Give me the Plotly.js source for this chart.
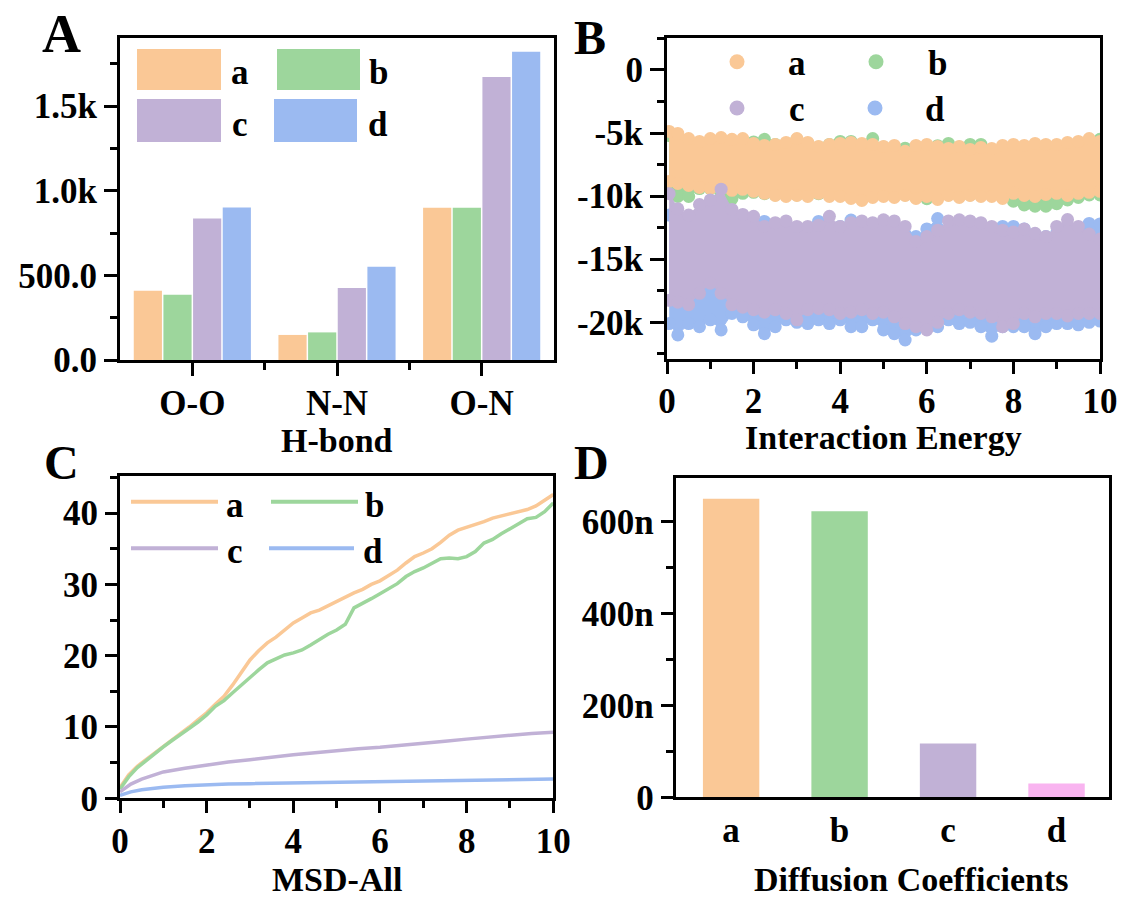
<!DOCTYPE html>
<html><head><meta charset="utf-8">
<script src="https://cdn.plot.ly/plotly-3.0.1.min.js"></script>
<style>body{margin:0;background:#fff}</style>
</head><body>
<div id="chart" style="width:1123px;height:901px"></div>
<script>
// ---------- DATA ----------
const seriesNames = ['a','b','c','d'];

// Panel A: H-bond counts
const hbondCategories = ['O-O','N-N','O-N'];
const hbondA = [409, 148, 899];
const hbondB = [385, 163, 899];
const hbondC = [836, 425, 1672];
const hbondD = [901, 551, 1820];

// Panel B: interaction energy band envelopes (upper / lower edges of the point cloud)
const ieX = [0.05,0.25,0.5,0.75,1,1.25,1.5,1.75,2,2.25,2.5,2.75,3,3.25,3.5,3.75,4,4.25,4.5,4.75,5,5.25,5.5,5.75,6,6.25,6.5,6.75,7,7.25,7.5,7.75,8,8.25,8.5,8.75,9,9.25,9.5,9.75,10];
const ieATop = [-4870,-5030,-5430,-5660,-5430,-5350,-5500,-5430,-5820,-5980,-5900,-5740,-5430,-5740,-6060,-5900,-5820,-5740,-5820,-5900,-6060,-5980,-6450,-5980,-5900,-6060,-6220,-6060,-6300,-6140,-6220,-5980,-5900,-5980,-5820,-5900,-5900,-5740,-5660,-5430,-5660];
const ieABot = [-8830,-8990,-9150,-9310,-9390,-9230,-9540,-9460,-9620,-9780,-9940,-10020,-9940,-10020,-9780,-10020,-10020,-10180,-10340,-10100,-10020,-10100,-9940,-10180,-10020,-10260,-9940,-10100,-9940,-10020,-10020,-10180,-9780,-9940,-10020,-9860,-9780,-9940,-9780,-9700,-9620];
const ieBTop = [-5200,-5300,-5600,-5800,-5700,-5600,-5700,-5600,-5700,-5500,-5900,-5900,-5500,-5800,-6100,-5900,-5660,-5660,-5900,-5430,-6100,-6100,-6200,-6100,-6000,-6000,-5820,-6100,-5900,-5900,-6300,-6100,-6000,-6100,-6000,-6000,-6000,-5900,-5800,-5600,-5500];
const ieBBot = [-9000,-10020,-10020,-9400,-9400,-9900,-10200,-9780,-9700,-9800,-9900,-9900,-9900,-9900,-9800,-9900,-9900,-10000,-10100,-10000,-9900,-10000,-9900,-10100,-10200,-10100,-9900,-10000,-9900,-9900,-9900,-10100,-10400,-10700,-10800,-10800,-10600,-10300,-10100,-9900,-9900];
const ieCTop = [-9800,-11000,-11500,-10660,-10300,-9450,-11050,-11450,-11600,-12400,-12100,-11960,-12400,-12400,-12300,-11600,-12400,-12100,-11960,-12100,-11870,-11960,-12400,-13600,-13200,-12700,-11960,-11870,-11960,-12100,-12400,-12700,-12850,-12600,-12950,-13200,-12400,-11850,-12400,-13000,-13400];
const ieCBot = [-18260,-18400,-18600,-17700,-16900,-17700,-18600,-18800,-19000,-19200,-19000,-19300,-19800,-19000,-18900,-19000,-19300,-19200,-19000,-19300,-19200,-19560,-20100,-20350,-20600,-20000,-19300,-19000,-19200,-19300,-19560,-20350,-20100,-19300,-19560,-19300,-19300,-19500,-19300,-19300,-19300];
const ieDTop = [-11500,-12000,-12200,-12000,-11800,-12000,-12200,-12300,-12400,-12000,-12600,-12600,-12800,-12800,-12000,-12500,-12400,-11900,-12600,-12700,-12600,-12800,-13000,-13200,-12600,-11770,-12800,-12800,-12800,-12900,-13000,-12400,-12400,-12600,-13000,-13200,-12900,-12500,-12800,-12160,-12200];
const ieDBot = [-20100,-21000,-20100,-20350,-19800,-20600,-19300,-19560,-20200,-20900,-20350,-19800,-20000,-20100,-19800,-20100,-19800,-20350,-20350,-19800,-20600,-20900,-21400,-20600,-20350,-20350,-19800,-20100,-20000,-20350,-21100,-20350,-20350,-20350,-20900,-20350,-20100,-20100,-20200,-20000,-19900];

// Panel C: MSD-All
const msdX1 = [0,0.2,0.4,0.6,0.8,1,1.2,1.4,1.6,1.8,2,2.2,2.4,2.6,2.8,3,3.2,3.4,3.6,3.8,4,4.2,4.4,4.6,4.8,5,5.2,5.4,5.6,5.8,6,6.2,6.4,6.6,6.8,7,7.2,7.4,7.6,7.8,8,8.2,8.4,8.6,8.8,9,9.2,9.4,9.6,9.8,10];
const msdA = [1.5,3.3,4.5,5.4,6.3,7.3,8.2,9.1,10.0,11.0,12.0,13.2,14.3,15.9,17.6,19.4,20.7,21.8,22.6,23.6,24.6,25.3,26.0,26.4,27.0,27.7,28.3,28.8,29.3,30.0,30.5,31.2,32.0,33.0,33.9,34.4,35.0,35.9,36.9,37.6,38.0,38.3,38.8,39.3,39.6,39.8,40.1,40.5,41.0,41.8,42.6];
const msdB = [1.3,3.0,4.3,5.3,6.2,7.2,8.1,8.9,9.8,10.7,11.7,12.9,13.7,14.8,15.9,16.9,18.0,19.0,19.6,20.1,20.4,20.8,21.5,22.3,23.0,23.6,24.4,26.7,27.3,28.0,28.7,29.4,30.1,31.1,31.8,32.3,32.9,33.6,33.7,33.6,33.9,34.6,35.8,36.3,37.1,37.8,38.6,39.2,39.4,40.2,41.4];
const msdX2 = [0,0.25,0.5,0.75,1,1.5,2,2.5,3,3.5,4,4.5,5,5.5,6,6.5,7,7.5,8,8.5,9,9.5,10];
const msdC = [0.9,2.0,2.7,3.2,3.7,4.2,4.7,5.1,5.4,5.8,6.1,6.4,6.7,6.95,7.15,7.4,7.7,8.0,8.3,8.6,8.9,9.1,9.25];
const msdD = [0.4,0.9,1.2,1.4,1.55,1.75,1.9,2.0,2.05,2.1,2.15,2.2,2.25,2.3,2.35,2.4,2.45,2.5,2.55,2.6,2.62,2.66,2.7];

// Panel D: diffusion coefficients
const diffCategories = ['a','b','c','d'];
const diffValues = [649e-9, 622e-9, 117e-9, 30e-9];

// ticks
const hbondTickVals = [0,500,1000,1500];
const hbondTickText = ['0.0','500.0','1.0k','1.5k'];
const ieTickVals = [0,-5000,-10000,-15000,-20000];
const ieTickText = ['0','-5k','-10k','-15k','-20k'];
const diffTickVals = [0,200e-9,400e-9,600e-9];
const diffTickText = ['0','200n','400n','600n'];

// ---------- STYLE ----------
const COL = {a:'#FAC896', b:'#9DD69C', c:'#C1B1D6', d:'#9BBAF1', pink:'#F9B4F0'};
const FONT = 'Liberation Serif, Times New Roman, serif';
const W = 1123, H = 901;
const fx = p => p / W;
const fy = p => 1 - p / H;
const tf = {family: FONT, size: 35, color: '#000', weight: 'bold'};

// ---------- TRACES ----------
const traces = [];
const hb = {a: hbondA, b: hbondB, c: hbondC, d: hbondD};
const catIdx = hbondCategories.map((c, i) => i);
seriesNames.forEach(s => {
  traces.push({type:'bar', x: catIdx, y: hb[s], name: s, marker:{color: COL[s]}, xaxis:'x', yaxis:'y', hoverinfo:'y'});
});

function band(top, bot, col, name) {
  traces.push({type:'scatter', mode:'lines+markers', x: ieX, y: bot, name: name, line:{color: col, width: 1}, marker:{color: col, size: 13}, xaxis:'x2', yaxis:'y2', hoverinfo:'skip'});
  traces.push({type:'scatter', mode:'lines+markers', x: ieX, y: top, name: name, line:{color: col, width: 1}, marker:{color: col, size: 13}, fill:'tonexty', fillcolor: col, xaxis:'x2', yaxis:'y2', hoverinfo:'skip'});
}
band(ieBTop, ieBBot, COL.b, 'b');
band(ieATop, ieABot, COL.a, 'a');
band(ieDTop, ieDBot, COL.d, 'd');
band(ieCTop, ieCBot, COL.c, 'c');

traces.push({type:'scatter', mode:'lines', x: msdX1, y: msdA, name:'a', line:{color: COL.a, width: 3.5}, xaxis:'x3', yaxis:'y3'});
traces.push({type:'scatter', mode:'lines', x: msdX1, y: msdB, name:'b', line:{color: COL.b, width: 3.5}, xaxis:'x3', yaxis:'y3'});
traces.push({type:'scatter', mode:'lines', x: msdX2, y: msdC, name:'c', line:{color: COL.c, width: 3.5}, xaxis:'x3', yaxis:'y3'});
traces.push({type:'scatter', mode:'lines', x: msdX2, y: msdD, name:'d', line:{color: COL.d, width: 3.5}, xaxis:'x3', yaxis:'y3'});

traces.push({type:'bar', x: diffCategories, y: diffValues, width: 0.52, marker:{color:[COL.a, COL.b, COL.c, COL.pink]}, xaxis:'x4', yaxis:'y4'});

// ---------- AXES ----------
function ax(extra) {
  return Object.assign({
    showline: true, linewidth: 3, linecolor: '#000', mirror: true,
    showgrid: false, zeroline: false, ticks: 'outside', ticklen: 12, tickwidth: 3, tickcolor: '#000',
    tickfont: tf, fixedrange: true
  }, extra);
}
const minorX = {ticks:'outside', ticklen: 7, tickwidth: 3, tickcolor:'#000', showgrid: false};

const layout = {
  width: W, height: H, margin: {l:0, r:0, t:0, b:0},
  paper_bgcolor: '#fff', plot_bgcolor: '#fff', showlegend: false,
  font: tf,
  barmode: 'group', bargap: 0.18, bargroupgap: 0.05,
  xaxis: ax({domain:[fx(120), fx(554)], anchor:'y', range:[-0.5, 2.5], tickmode:'array', tickvals: catIdx, ticktext: hbondCategories, ticklen: 13, ticklabelstandoff: -3,
    minor: Object.assign({tickmode:'array', tickvals: catIdx.slice(1).map(i => i - 0.5)}, minorX)}),
  yaxis: ax({domain:[fy(360), fy(38.3)], anchor:'x', range:[0, 1900], tickmode:'array', tickvals: hbondTickVals, ticktext: hbondTickText, ticklen: 13,
    minor: Object.assign({tickmode:'linear', tick0: 0, dtick: 250}, minorX)}),
  xaxis2: ax({domain:[fx(667), fx(1100)], anchor:'y2', range:[0, 10], tickmode:'linear', tick0: 0, dtick: 2, ticklabelstandoff: -3,
    minor: Object.assign({tickmode:'linear', tick0: 0, dtick: 1}, minorX)}),
  yaxis2: ax({domain:[fy(359.3), fy(38.3)], anchor:'x2', range:[-22930, 2510], tickmode:'array', tickvals: ieTickVals, ticktext: ieTickText, ticklen: 14,
    minor: Object.assign({tickmode:'linear', tick0: 0, dtick: 2500}, minorX)}),
  xaxis3: ax({domain:[fx(120), fx(553.3)], anchor:'y3', range:[0, 10], tickmode:'linear', tick0: 0, dtick: 2, ticklabelstandoff: -2,
    minor: Object.assign({tickmode:'linear', tick0: 0, dtick: 1}, minorX)}),
  yaxis3: ax({domain:[fy(798.3), fy(476)], anchor:'x3', range:[0, 45.2], tickmode:'linear', tick0: 0, dtick: 10,
    minor: Object.assign({tickmode:'linear', tick0: 0, dtick: 5}, minorX)}),
  xaxis4: ax({domain:[fx(675.8), fx(1108.6)], anchor:'y4', range:[-0.51, 3.48], ticks: ''}),
  yaxis4: ax({domain:[fy(797.3), fy(477.7)], anchor:'x4', range:[0, 695e-9], tickmode:'array', tickvals: diffTickVals, ticktext: diffTickText,
    minor: Object.assign({tickmode:'linear', tick0: 0, dtick: 100e-9}, minorX)}),
  shapes: [], annotations: []
};

// ---------- LEGENDS (drawn) ----------
function txt(t, x, y, size, xanchor) {
  layout.annotations.push({text: t, x: fx(x), y: fy(y), xref:'paper', yref:'paper', showarrow: false,
    xanchor: xanchor || 'center', yanchor: 'middle', font: {family: FONT, size: size || 35, color:'#000', weight:'bold'}});
}
// A legend: rectangles
const legA = [['a',137,49,221,90,240,72],['b',277,49,360,90,378,72],['c',137,99,221,142,240,124],['d',274,99,357,142,378,124]];
legA.forEach(r => {
  layout.shapes.push({type:'rect', xref:'paper', yref:'paper', x0: fx(r[1]), x1: fx(r[3]), y0: fy(r[4]), y1: fy(r[2]), fillcolor: COL[r[0]], line:{width:0}});
  txt(r[0], r[5], r[6]);
});
// B legend: circles
const legB = [['a',737,61.7,797,63],['b',876,61.7,937,63],['c',737,108,797,110],['d',875,108,935,110]];
legB.forEach(r => {
  layout.shapes.push({type:'circle', xref:'paper', yref:'paper', x0: fx(r[1]-7.5), x1: fx(r[1]+7.5), y0: fy(r[2]+7.5), y1: fy(r[2]-7.5), fillcolor: COL[r[0]], line:{width:0}});
  txt(r[0], r[3], r[4]);
});
// C legend: lines
const legC = [['a',131,218,501.7,234.5,505],['b',271,358,501.7,374,505],['c',131,218,548.3,234.5,551],['d',269,354,548.3,373,551]];
legC.forEach(r => {
  layout.shapes.push({type:'line', xref:'paper', yref:'paper', x0: fx(r[1]), x1: fx(r[2]), y0: fy(r[3]), y1: fy(r[3]), line:{color: COL[r[0]], width: 4}});
  txt(r[0], r[4], r[5]);
});

// axis titles
txt('H-bond', 337, 440, 34);
txt('Interaction Energy', 883, 437, 34);
txt('MSD-All', 337, 879, 34);
txt('Diffusion Coefficients', 911, 879, 34);
// panel letters
txt('A', 61, 34, 54);
txt('B', 590, 37, 48);
txt('C', 61, 462, 48);
txt('D', 591, 462, 48);

Plotly.newPlot('chart', traces, layout, {staticPlot: true, displayModeBar: false});
</script>
</body></html>
